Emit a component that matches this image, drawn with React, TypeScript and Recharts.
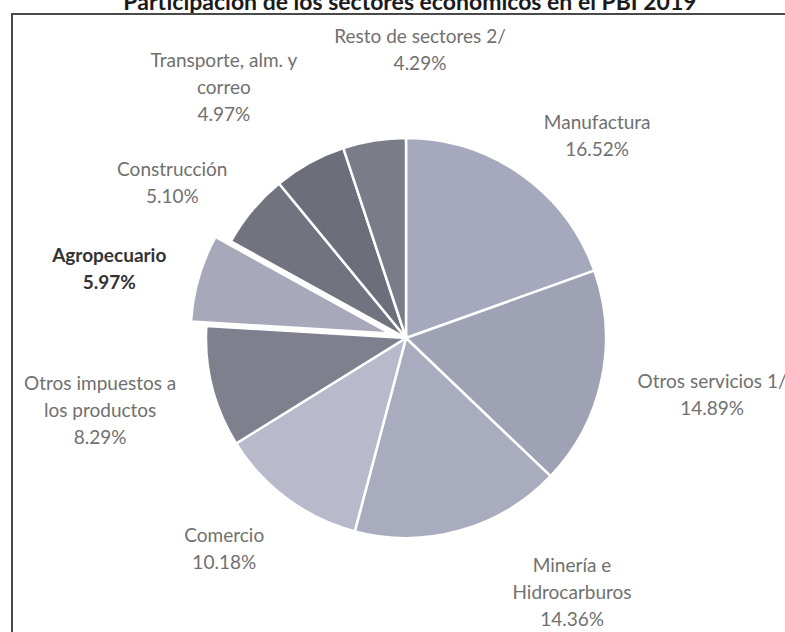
import { Cell, Pie, PieChart } from "recharts";

// Participación de los sectores económicos en el PBI 2019 (%)
const sectors = [
  "Manufactura",
  "Otros servicios 1/",
  "Minería e Hidrocarburos",
  "Comercio",
  "Otros impuestos a los productos",
  "Agropecuario",
  "Construcción",
  "Transporte, alm. y correo",
  "Resto de sectores 2/",
];
const shares = [16.52, 14.89, 14.36, 10.18, 8.29, 5.97, 5.1, 4.97, 4.29];
const labelLines = [
  ["Manufactura"],
  ["Otros servicios 1/"],
  ["Minería e", "Hidrocarburos"],
  ["Comercio"],
  ["Otros impuestos a", "los productos"],
  ["Agropecuario"],
  ["Construcción"],
  ["Transporte, alm. y", "correo"],
  ["Resto de sectores 2/"],
];
const highlighted = "Agropecuario";

const data = sectors.map((name, i) => ({ name, value: shares[i] }));

const colors = [
  "#a6a8bd",
  "#9fa1b5",
  "#a9abbe",
  "#b8bacb",
  "#7e808e",
  "#a7a9bb",
  "#71737f",
  "#6c6e7a",
  "#7a7c88",
];

// hand-tuned label placement like the original (deg clockwise, px from centre)
const labelNudge = [
  [8.1, 279],
  [-1.8, 311],
  [-17.5, 303],
  [4.5, 277],
  [1.1, 314],
  [-2.8, 305],
  [-6.0, 281],
  [-7.0, 311],
  [11.9, 290],
];

const FONT = "Lato, 'Open Sans', sans-serif";
const CX = 406;
const CY = 338;
const R = 200;
const EXPLODE = 16;
const LINE_H = 27;

const total = shares.reduce((a, b) => a + b, 0);
const hiIndex = sectors.indexOf(highlighted);
const hiMid =
  ((shares.slice(0, hiIndex).reduce((a, b) => a + b, 0) + shares[hiIndex] / 2) /
    total) *
  2 *
  Math.PI;
const hiDx = Math.sin(hiMid) * EXPLODE;
const hiDy = -Math.cos(hiMid) * EXPLODE;

const renderLabel = (props: any) => {
  const { cx, cy, midAngle, index } = props;
  const [dAng, dist] = labelNudge[index];
  const ang = ((midAngle - dAng) * Math.PI) / 180;
  const x = cx + dist * Math.cos(ang);
  const y = cy - dist * Math.sin(ang);
  const lines = [...labelLines[index], `${shares[index].toFixed(2)}%`];
  const bold = sectors[index] === highlighted;
  const top = y - ((lines.length - 1) * LINE_H) / 2;
  return (
    <text
      key={`lbl-${index}`}
      x={x}
      y={top}
      textAnchor="middle"
      dominantBaseline="central"
      fontFamily={FONT}
      fontSize={19}
      fontWeight={bold ? 700 : 400}
      fill={bold ? "#333" : "#707070"}
    >
      {lines.map((ln, i) => (
        <tspan key={i} x={x} dy={i === 0 ? 0 : LINE_H}>
          {ln}
        </tspan>
      ))}
    </text>
  );
};

export default function App() {
  return (
    <div
      style={{
        position: "absolute",
        left: 0,
        top: 0,
        width: 785,
        height: 632,
        overflow: "hidden",
        background: "#fff",
      }}
    >
      <div
        style={{
          position: "absolute",
          left: 0,
          top: -12,
          width: 820,
          textAlign: "center",
          fontFamily: FONT,
          fontWeight: 700,
          fontSize: 23,
          lineHeight: "26px",
          color: "#1a1a1a",
          whiteSpace: "nowrap",
        }}
      >
        Participación de los sectores económicos en el PBI 2019
      </div>
      <div
        style={{
          position: "absolute",
          left: 11,
          top: 13,
          width: 840,
          height: 700,
          border: "2px solid #4a4a4a",
        }}
      />
      <div style={{ position: "absolute", left: 0, top: 0 }}>
        <PieChart
          width={785}
          height={632}
          margin={{ top: 0, right: 0, bottom: 0, left: 0 }}
        >
          <Pie
            data={data}
            dataKey="value"
            nameKey="name"
            cx={CX}
            cy={CY}
            outerRadius={R}
            startAngle={90}
            endAngle={-270}
            label={renderLabel}
            labelLine={false}
            isAnimationActive={false}
          >
            {data.map((d, i) => (
              <Cell
                key={d.name}
                fill={d.name === highlighted ? "transparent" : colors[i]}
                stroke={d.name === highlighted ? "none" : "#fff"}
                strokeWidth={2.5}
              />
            ))}
          </Pie>
          <Pie
            data={data}
            dataKey="value"
            nameKey="name"
            cx={CX + hiDx}
            cy={CY + hiDy}
            outerRadius={R}
            startAngle={90}
            endAngle={-270}
            isAnimationActive={false}
          >
            {data.map((d, i) => (
              <Cell
                key={d.name}
                fill={d.name === highlighted ? colors[i] : "transparent"}
                stroke={d.name === highlighted ? "#fff" : "none"}
                strokeWidth={2.5}
              />
            ))}
          </Pie>
        </PieChart>
      </div>
    </div>
  );
}
